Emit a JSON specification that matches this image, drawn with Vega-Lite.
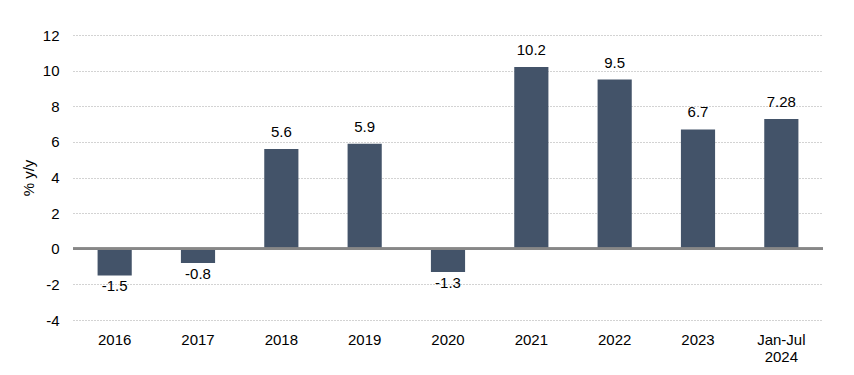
{
  "$schema": "https://vega.github.io/schema/vega-lite/v6.json",
  "width": 750,
  "height": 285,
  "autosize": "none",
  "padding": {"left": 73, "top": 35, "right": 31, "bottom": 55},
  "background": "white",
  "config": {
    "view": {"stroke": null},
    "font": "Liberation Sans",
    "text": {"font": "Liberation Sans"}
  },
  "data": {
    "values": [
      {"period": "2016", "value": -1.5, "label": "-1.5"},
      {"period": "2017", "value": -0.8, "label": "-0.8"},
      {"period": "2018", "value": 5.6, "label": "5.6"},
      {"period": "2019", "value": 5.9, "label": "5.9"},
      {"period": "2020", "value": -1.3, "label": "-1.3"},
      {"period": "2021", "value": 10.2, "label": "10.2"},
      {"period": "2022", "value": 9.5, "label": "9.5"},
      {"period": "2023", "value": 6.7, "label": "6.7"},
      {"period": "Jan-Jul|2024", "value": 7.28, "label": "7.28"}
    ]
  },
  "encoding": {
    "x": {
      "field": "period",
      "type": "nominal",
      "sort": null,
      "scale": {"paddingInner": 0.59, "paddingOuter": 0.295},
      "axis": {
        "title": null,
        "labelAngle": 0,
        "domain": false,
        "ticks": false,
        "grid": false,
        "labelPadding": 12,
        "labelFontSize": 15,
        "labelColor": "#000000",
        "labelFont": "Liberation Sans",
        "labelLineHeight": 17,
        "labelExpr": "split(datum.label, '|')"
      }
    },
    "y": {
      "field": "value",
      "type": "quantitative",
      "scale": {"domain": [-4, 12], "nice": false},
      "axis": {
        "title": "% y/y",
        "titleFontSize": 15,
        "titleFontWeight": "normal",
        "titleColor": "#000000",
        "titleFont": "Liberation Sans",
        "titlePadding": 6,
        "values": [-4, -2, 0, 2, 4, 6, 8, 10, 12],
        "labelExpr": "toString(datum.value)",
        "domain": false,
        "ticks": false,
        "labelPadding": 14,
        "labelFontSize": 15,
        "labelColor": "#000000",
        "labelFont": "Liberation Sans",
        "grid": true,
        "gridColor": "#a6a6a6",
        "gridDash": [1, 2],
        "gridWidth": 1
      }
    }
  },
  "layer": [
    {"mark": {"type": "bar", "color": "#435369"}},
    {
      "mark": {"type": "rule", "color": "#878787", "strokeWidth": 2},
      "encoding": {"y": {"datum": 0}, "x": {"value": 0}, "x2": {"value": 750}}
    },
    {
      "transform": [{"filter": "datum.value >= 0"}],
      "mark": {"type": "text", "baseline": "bottom", "dy": -9, "fontSize": 15, "color": "#000000"},
      "encoding": {"text": {"field": "label"}}
    },
    {
      "transform": [{"filter": "datum.value < 0"}],
      "mark": {"type": "text", "baseline": "top", "dy": 4, "fontSize": 15, "color": "#000000"},
      "encoding": {"text": {"field": "label"}}
    }
  ]
}
